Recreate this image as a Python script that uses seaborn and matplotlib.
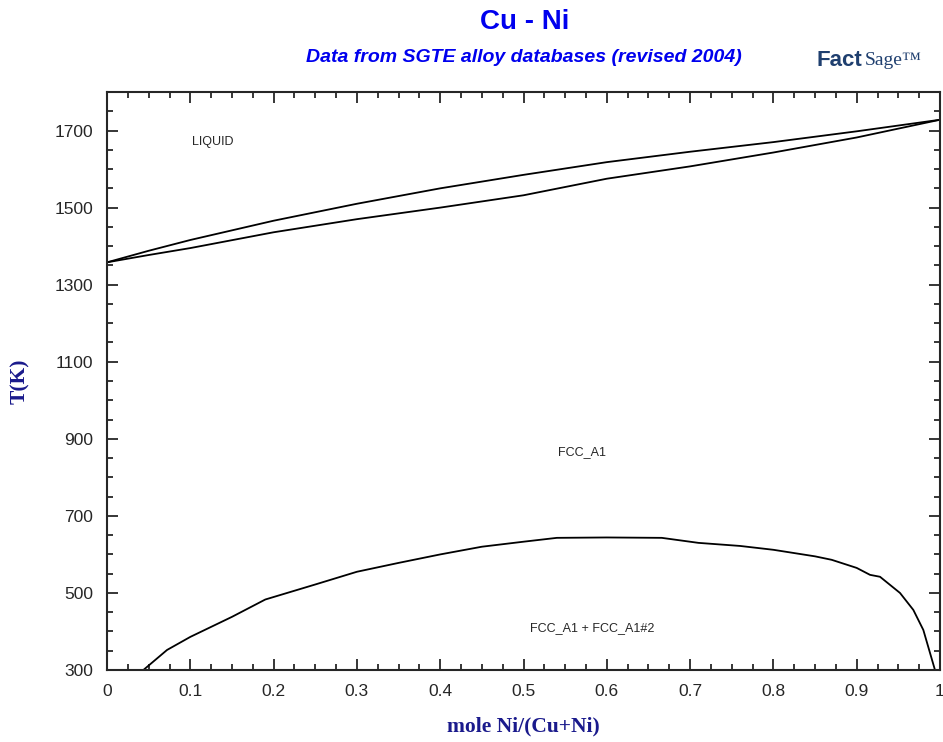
import numpy as np
import pandas as pd
import matplotlib
matplotlib.use("Agg")
import matplotlib.pyplot as plt
import seaborn as sns
from matplotlib.ticker import MultipleLocator

# liquidus / solidus (K) vs mole fraction Ni
liq_x = [0.0, 0.05, 0.1, 0.2, 0.3, 0.4, 0.5, 0.6, 0.7, 0.8, 0.9, 1.0]
liq_T = [1358, 1388, 1416, 1466, 1510, 1550, 1585, 1618, 1645, 1670, 1698, 1728]
sol_x = [0.0, 0.05, 0.1, 0.2, 0.3, 0.4, 0.5, 0.6, 0.7, 0.8, 0.9, 1.0]
sol_T = [1358, 1377, 1395, 1436, 1470, 1500, 1532, 1575, 1607, 1643, 1682, 1728]

# miscibility gap FCC_A1 + FCC_A1#2
gap_x = [0.0436, 0.072, 0.10, 0.15, 0.19, 0.25, 0.30, 0.35, 0.40, 0.45, 0.50,
         0.54, 0.60, 0.666, 0.71, 0.76, 0.80, 0.85, 0.87, 0.90, 0.916, 0.928,
         0.952, 0.968, 0.98, 0.994]
gap_T = [300, 352, 386, 438, 483, 522, 555, 578, 600, 620, 633,
         643, 644, 643, 630, 622, 612, 595, 586, 565, 547, 542,
         500, 456, 404, 300]

phase_labels = ["LIQUID", "FCC_A1", "FCC_A1 + FCC_A1#2"]
phase_x = [0.127, 0.570, 0.583]
phase_T = [1671, 866, 409]

x_ticks = [0, 0.1, 0.2, 0.3, 0.4, 0.5, 0.6, 0.7, 0.8, 0.9, 1]
x_tick_labels = ["0", "0.1", "0.2", "0.3", "0.4", "0.5", "0.6", "0.7", "0.8", "0.9", "1"]
y_ticks = [300, 500, 700, 900, 1100, 1300, 1500, 1700]

sns.set_style("ticks")
plt.rcParams["font.family"] = ["Liberation Sans", "DejaVu Sans"]

fig = plt.figure(figsize=(9.43, 7.42), dpi=100)
ax = fig.add_axes([0.1135, 0.097, 0.8833, 0.779])

curves = [
    pd.DataFrame({"x": liq_x, "T": liq_T}),
    pd.DataFrame({"x": sol_x, "T": sol_T}),
    pd.DataFrame({"x": gap_x, "T": gap_T}),
]
for df in curves:
    sns.lineplot(data=df, x="x", y="T", sort=False, color="black", lw=1.3, ax=ax)

ax.set_xlim(0, 1)
ax.set_ylim(300, 1800)
ax.set_xticks(x_ticks)
ax.set_xticklabels(x_tick_labels)
ax.set_yticks(y_ticks)
ax.xaxis.set_minor_locator(MultipleLocator(0.025))
ax.yaxis.set_minor_locator(MultipleLocator(50))
ax.tick_params(which="both", direction="in", top=True, right=True, width=1.3)
ax.tick_params(which="major", length=8, labelsize=12.5, pad=10)
ax.tick_params(which="minor", length=4)
for s in ax.spines.values():
    s.set_linewidth(1.5)

for lab, px, pT in zip(phase_labels, phase_x, phase_T):
    ax.text(px, pT, lab, fontsize=9, ha="center", va="center")

navy = "#1a1a8c"
ax.set_xlabel("mole Ni/(Cu+Ni)", family="Liberation Serif", fontweight="bold",
              fontsize=15.5, color=navy)
ax.set_ylabel("T(K)", family="Liberation Serif", fontweight="bold",
              fontsize=15.5, color=navy)
ax.xaxis.set_label_coords(0.5, -0.08)
ax.yaxis.set_label_coords(-0.092, 0.5)

fig.text(0.556, 0.970, "Cu - Ni", ha="center", va="center", fontsize=20,
         fontweight="bold", color="#0000ee")
fig.text(0.556, 0.922, "Data from SGTE alloy databases (revised 2004)",
         ha="center", va="center", fontsize=14, fontweight="bold",
         style="italic", color="#0000ee")
fig.text(0.866, 0.918, "Fact", ha="left", va="center", fontsize=16,
         fontweight="bold", color="#1f3f6f")
fig.text(0.917, 0.918, "Sage\u2122", ha="left", va="center", fontsize=14,
         family="Liberation Serif", color="#1f3f6f")

fig.savefig("out.png", dpi=100)
